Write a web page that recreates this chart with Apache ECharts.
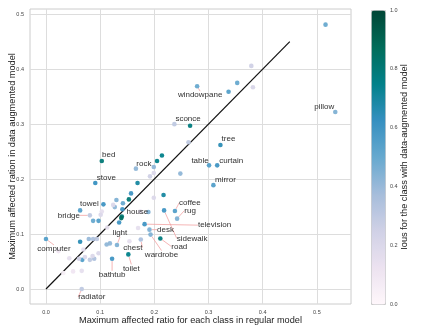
<!DOCTYPE html>
<html>
<head>
<meta charset="utf-8">
<script src="https://cdn.jsdelivr.net/npm/echarts@6/dist/echarts.min.js"></script>
<style>
  html, body { margin: 0; padding: 0; background: #fff; }
  #chart { width: 438px; height: 332px; }
</style>
</head>
<body>
<div id="chart"></div>
<script>
// class names ('' = no label), regular-model ratio, augmented-model ratio, IoU of the augmented model
var names = [
  'windowpane', 'sconce', 'tree', 'table', 'curtain', 'mirror', 'pillow', 'bed', 'rock', 'stove',
  'towel', 'bridge', 'house', 'coffee', 'rug', 'television', 'desk', 'sidewalk', 'road', 'wardrobe',
  'chest', 'light', 'toilet', 'bathtub', 'computer', 'radiator',
  '', '', '', '', '', '', '', '', '', '',
  '', '', '', '', '', '', '', '', '', '',
  '', '', '', '', '', '', '', '', '', '',
  '', '', '', '', '', '', '', '', '', '',
  '', '', '', '', '', '', '', '', '', '',
  '', '', '', ''
]
var regularRatio = [
  0.279, 0.266, 0.322, 0.301, 0.316, 0.309, 0.534, 0.103, 0.166, 0.091,
  0.106, 0.081, 0.189, 0.238, 0.242, 0.182, 0.191, 0.218, 0.211, 0.193,
  0.175, 0.131, 0.152, 0.122, 0.000, 0.066,
  0.516, 0.379, 0.353, 0.337, 0.382, 0.237, 0.263, 0.214, 0.205, 0.199,
  0.248, 0.192, 0.199, 0.169, 0.157, 0.217, 0.199, 0.153, 0.130, 0.142,
  0.127, 0.141, 0.124, 0.063, 0.103, 0.101, 0.097, 0.087, 0.140, 0.139,
  0.135, 0.174, 0.170, 0.154, 0.113, 0.063, 0.079, 0.087, 0.094, 0.069,
  0.097, 0.067, 0.081, 0.089, 0.050, 0.066, 0.112, 0.118, 0.023, 0.043,
  0.061, 0.072, 0.086, 0.032
]
var augmentedRatio = [
  0.369, 0.297, 0.262, 0.225, 0.225, 0.189, 0.322, 0.233, 0.219, 0.193,
  0.154, 0.134, 0.140, 0.142, 0.128, 0.118, 0.108, 0.143, 0.092, 0.099,
  0.090, 0.080, 0.063, 0.055, 0.091, 0.000,
  0.481, 0.406, 0.375, 0.359, 0.367, 0.300, 0.267, 0.243, 0.233, 0.222,
  0.210, 0.205, 0.211, 0.193, 0.174, 0.171, 0.166, 0.163, 0.162, 0.156,
  0.149, 0.145, 0.153, 0.143, 0.141, 0.135, 0.124, 0.124, 0.132, 0.129,
  0.121, 0.141, 0.111, 0.087, 0.112, 0.086, 0.091, 0.091, 0.091, 0.072,
  0.065, 0.053, 0.053, 0.055, 0.032, 0.033, 0.081, 0.083, 0.069, 0.056,
  0.055, 0.058, 0.060, 0.029
]
var iou = [
  0.50, 0.78, 0.65, 0.55, 0.60, 0.55, 0.45, 0.80, 0.42, 0.62,
  0.60, 0.30, 0.45, 0.55, 0.45, 0.60, 0.45, 0.60, 0.78, 0.45,
  0.35, 0.45, 0.75, 0.60, 0.55, 0.30,
  0.50, 0.25, 0.50, 0.55, 0.22, 0.30, 0.30, 0.75, 0.75, 0.42,
  0.42, 0.25, 0.20, 0.70, 0.60, 0.70, 0.20, 0.80, 0.45, 0.50,
  0.42, 0.60, 0.20, 0.55, 0.15, 0.20, 0.55, 0.50, 0.80, 0.85,
  0.60, 0.15, 0.15, 0.15, 0.15, 0.65, 0.40, 0.35, 0.30, 0.15,
  0.20, 0.55, 0.30, 0.35, 0.10, 0.15, 0.42, 0.42, 0.10, 0.15,
  0.25, 0.20, 0.20, 0.05
]
var xTicks = [0.0, 0.1, 0.2, 0.3, 0.4, 0.5]
var yTicks = [0.0, 0.1, 0.2, 0.3, 0.4, 0.5]
var diagonal = [[0, 0], [0.45, 0.45]]

// where each label sits, relative to its point (px)
var labelOffsets = {
  windowpane: [3, 9], sconce: [-2, -7], tree: [8, -6], table: [-9, -5], curtain: [14, -5],
  mirror: [12, -5], pillow: [-11, -5], bed: [7, -6], rock: [8, -5], stove: [11, -5],
  towel: [-14, -1], bridge: [-21, 0], house: [-11, 0], coffee: [15, -8], rug: [13, -8],
  television: [70, 1], desk: [16, 0], sidewalk: [28, 28], road: [19, 8], wardrobe: [11, 20],
  chest: [-8, 8], light: [3, -12], toilet: [3, 14], bathtub: [0, 16], computer: [8, 10],
  radiator: [10, 8]
}
var leaders = ['bridge', 'coffee', 'rug', 'television', 'desk', 'sidewalk', 'road', 'wardrobe',
  'chest', 'light', 'toilet', 'bathtub', 'computer', 'radiator', 'house', 'windowpane']

var pubugn = ['#fff7fb', '#ece2f0', '#d0d1e6', '#a6bddb', '#67a9cf', '#3690c0', '#02818a', '#016c59', '#014636']
var font = 'Liberation Sans, Arial, sans-serif'

var points = regularRatio.map(function (x, i) {
  var n = names[i]
  return {
    name: n,
    value: [x, augmentedRatio[i], iou[i]],
    label: { show: n !== '' },
    labelLine: { show: leaders.indexOf(n) >= 0 }
  }
})

var chart = echarts.init(document.getElementById('chart'), null, { renderer: 'canvas' })
chart.setOption({
  backgroundColor: '#fff',
  animation: false,
  textStyle: { fontFamily: font },
  grid: [
    { left: 30, top: 9, width: 321, height: 295, outerBoundsMode: 'none', show: true, borderColor: '#cccccc', borderWidth: 1, backgroundColor: 'transparent' },
    // colorbar axis
    { left: 371, top: 10, width: 14, height: 294, outerBoundsMode: 'none', show: false }
  ],
  xAxis: [
    {
      gridIndex: 0, type: 'value', min: -0.0295, max: 0.563,
      name: 'Maximum affected ratio for each class in regular model',
      nameLocation: 'middle', nameGap: 12, nameMoveOverlap: false,
      nameTextStyle: { fontSize: 9.2, color: '#222' },
      axisLine: { show: false },
      axisTick: { show: false, customValues: xTicks },
      axisLabel: { customValues: xTicks, fontSize: 5.5, color: '#444', margin: 5, formatter: function (v) { return v.toFixed(1) } },
      splitLine: { show: true, lineStyle: { color: '#dddddd', width: 1 } }
    },
    { gridIndex: 1, type: 'value', show: false, min: 0, max: 1 }
  ],
  yAxis: [
    {
      gridIndex: 0, type: 'value', min: -0.0273, max: 0.5095,
      name: 'Maximum affected ration in data augmented model',
      nameLocation: 'middle', nameGap: 13, nameMoveOverlap: false,
      nameTextStyle: { fontSize: 9.2, color: '#222' },
      axisLine: { show: false },
      axisTick: { show: false, customValues: yTicks },
      axisLabel: { customValues: yTicks, fontSize: 5.5, color: '#444', margin: 6, formatter: function (v) { return v.toFixed(1) } },
      splitLine: { show: true, lineStyle: { color: '#dddddd', width: 1 } }
    },
    {
      gridIndex: 1, type: 'value', position: 'right', min: 0, max: 1, interval: 0.2,
      name: 'Ious for the class with data-augmented model',
      nameLocation: 'middle', nameGap: 15, nameRotate: 90, nameMoveOverlap: false,
      nameTextStyle: { fontSize: 9.2, color: '#222' },
      axisLine: { show: false },
      axisTick: { show: false },
      splitLine: { show: false },
      axisLabel: { fontSize: 5.5, color: '#444', margin: 5, formatter: function (v) { return v.toFixed(1) } }
    }
  ],
  visualMap: {
    type: 'continuous',
    min: 0, max: 1, dimension: 2, seriesIndex: 0,
    calculable: false, text: null,
    left: 371, top: 10, itemWidth: 14, itemHeight: 294,
    padding: 0, borderColor: '#cccccc', borderWidth: 1,
    inRange: { color: pubugn }
  },
  series: [
    {
      type: 'scatter',
      xAxisIndex: 0, yAxisIndex: 0,
      symbolSize: 4.6,
      itemStyle: { opacity: 0.95 },
      data: points,
      label: {
        position: 'inside', formatter: '{b}',
        fontSize: 8, color: '#262626', fontFamily: font
      },
      labelLine: { lineStyle: { color: '#f2a3a3', width: 0.8 } },
      labelLayout: function (p) {
        var o = labelOffsets[names[p.dataIndex]] || [0, 0]
        return { dx: o[0], dy: o[1] }
      },
      z: 3
    },
    {
      type: 'line',
      xAxisIndex: 0, yAxisIndex: 0,
      data: diagonal,
      symbol: 'none',
      lineStyle: { color: '#111', width: 1.2 },
      z: 2
    }
  ]
})
</script>
</body>
</html>
